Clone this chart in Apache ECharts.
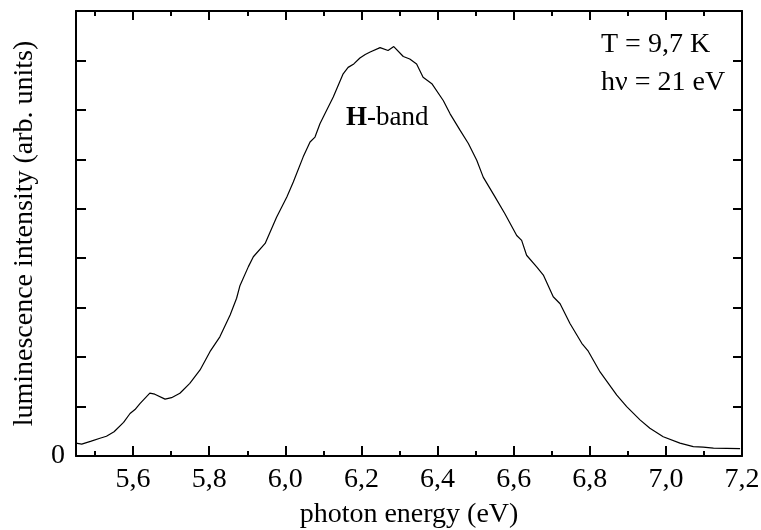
<!DOCTYPE html>
<html>
<head>
<meta charset="utf-8">
<script src="https://cdn.jsdelivr.net/npm/echarts@6/dist/echarts.min.js"></script>
<style>
  html, body { margin: 0; padding: 0; background: #fff; }
  #chart { width: 761px; height: 530px; }
</style>
</head>
<body>
<div id="chart"></div>
<script>
// spectrum (photon energy in eV, intensity in arb. units)
var energy = [5.450, 5.465, 5.490, 5.513, 5.530, 5.550, 5.575, 5.592, 5.605, 5.618,
  5.644, 5.657, 5.684, 5.701, 5.723, 5.749, 5.776, 5.802, 5.828, 5.855,
  5.872, 5.881, 5.903, 5.916, 5.947, 5.977, 6.004, 6.021, 6.047, 6.065,
  6.078, 6.091, 6.104, 6.126, 6.152, 6.165, 6.180, 6.196, 6.210, 6.223,
  6.249, 6.270, 6.285, 6.310, 6.327, 6.345, 6.362, 6.385, 6.415, 6.433,
  6.459, 6.481, 6.503, 6.520, 6.551, 6.577, 6.608, 6.621, 6.634, 6.661,
  6.678, 6.704, 6.722, 6.748, 6.779, 6.796, 6.827, 6.871, 6.897, 6.932,
  6.958, 6.993, 7.037, 7.072, 7.098, 7.125, 7.195];
var intensity = [0.26, 0.24, 0.30, 0.36, 0.40, 0.49, 0.68, 0.86, 0.94, 1.06,
  1.27, 1.25, 1.15, 1.18, 1.27, 1.47, 1.74, 2.11, 2.41, 2.85,
  3.19, 3.45, 3.83, 4.03, 4.30, 4.83, 5.24, 5.54, 6.05, 6.35,
  6.45, 6.72, 6.92, 7.26, 7.73, 7.86, 7.93, 8.05, 8.12, 8.17,
  8.26, 8.20, 8.28, 8.08, 8.03, 7.93, 7.66, 7.53, 7.19, 6.92,
  6.59, 6.32, 5.98, 5.64, 5.24, 4.90, 4.46, 4.36, 4.06, 3.82,
  3.66, 3.22, 3.08, 2.68, 2.28, 2.12, 1.70, 1.23, 1.00, 0.73,
  0.56, 0.39, 0.26, 0.19, 0.18, 0.16, 0.15];

var xMajor = [5.6, 5.8, 6.0, 6.2, 6.4, 6.6, 6.8, 7.0, 7.2];
var xMinor = [5.5, 5.7, 5.9, 6.1, 6.3, 6.5, 6.7, 6.9, 7.1];
var yLabels = [0];

var xMin = 5.45, xMax = 7.2;
var serif = '"Liberation Serif", "Times New Roman", serif';

var pts = [];
for (var i = 0; i < energy.length; i++) {
  pts.push([energy[i], intensity[i]]);
}

var myChart = echarts.init(document.getElementById('chart'));

function xAx(pos, ticks, len, withLine, extra) {
  var ax = {
    type: 'value',
    position: pos,
    min: xMin,
    max: xMax,
    axisLine: { show: withLine, onZero: false, lineStyle: { color: '#000', width: 2 } },
    axisTick: { show: true, inside: true, length: len, customValues: ticks,
      lineStyle: { color: '#000', width: 2 } },
    axisLabel: { show: false },
    splitLine: { show: false }
  };
  for (var k in extra) ax[k] = extra[k];
  return ax;
}

var option = {
  animation: false,
  grid: { left: 76, right: 19, top: 11, bottom: 74, outerBoundsMode: 'none' },
  xAxis: [
    xAx('bottom', xMajor, 10, true, {
      name: 'photon energy (eV)',
      nameLocation: 'middle',
      nameGap: 45,
      nameTextStyle: { fontFamily: serif, fontSize: 28, color: '#000' },
      axisLabel: {
        show: true,
        customValues: xMajor,
        margin: 10,
        fontFamily: serif,
        fontSize: 28,
        color: '#000',
        formatter: function (v) { return v.toFixed(1).replace('.', ','); }
      }
    }),
    xAx('bottom', xMinor, 5, false, {}),
    xAx('top', xMajor, 9, true, {}),
    xAx('top', xMinor, 5, false, {})
  ],
  yAxis: [
    {
      type: 'value',
      position: 'left',
      min: 0,
      max: 9,
      interval: 1,
      name: 'luminescence intensity (arb. units)',
      nameLocation: 'middle',
      nameGap: 37,
      nameTextStyle: { fontFamily: serif, fontSize: 28, color: '#000' },
      axisLine: { show: true, onZero: false, lineStyle: { color: '#000', width: 2 } },
      axisTick: { show: true, inside: true, length: 10, lineStyle: { color: '#000', width: 2 } },
      axisLabel: {
        customValues: yLabels,
        margin: 11,
        fontFamily: serif,
        fontSize: 28,
        color: '#000'
      },
      splitLine: { show: false }
    },
    {
      type: 'value',
      position: 'right',
      min: 0,
      max: 9,
      interval: 1,
      axisLine: { show: true, onZero: false, lineStyle: { color: '#000', width: 2 } },
      axisTick: { show: true, inside: true, length: 9, lineStyle: { color: '#000', width: 2 } },
      axisLabel: { show: false },
      splitLine: { show: false }
    }
  ],
  graphic: [
    {
      type: 'text', x: 601, y: 45,
      style: { text: 'T = 9,7 K', fontFamily: serif, fontSize: 28, fill: '#000', verticalAlign: 'middle' }
    },
    {
      type: 'text', x: 601, y: 83,
      style: { text: 'h\u03bd = 21 eV', fontFamily: serif, fontSize: 28, fill: '#000', verticalAlign: 'middle' }
    },
    {
      type: 'text', x: 346, y: 118,
      style: {
        text: '{b|H}-band', fontFamily: serif, fontSize: 27, fill: '#000', verticalAlign: 'middle',
        rich: { b: { fontFamily: serif, fontSize: 27, fontWeight: 'bold', fill: '#000' } }
      }
    }
  ],
  series: [
    {
      type: 'line',
      xAxisIndex: 0,
      yAxisIndex: 0,
      data: pts,
      showSymbol: false,
      lineStyle: { color: '#000', width: 1.2 }
    }
  ]
};

if (option && typeof option === "object") {
  myChart.setOption(option, true);
}
</script>
</body>
</html>
